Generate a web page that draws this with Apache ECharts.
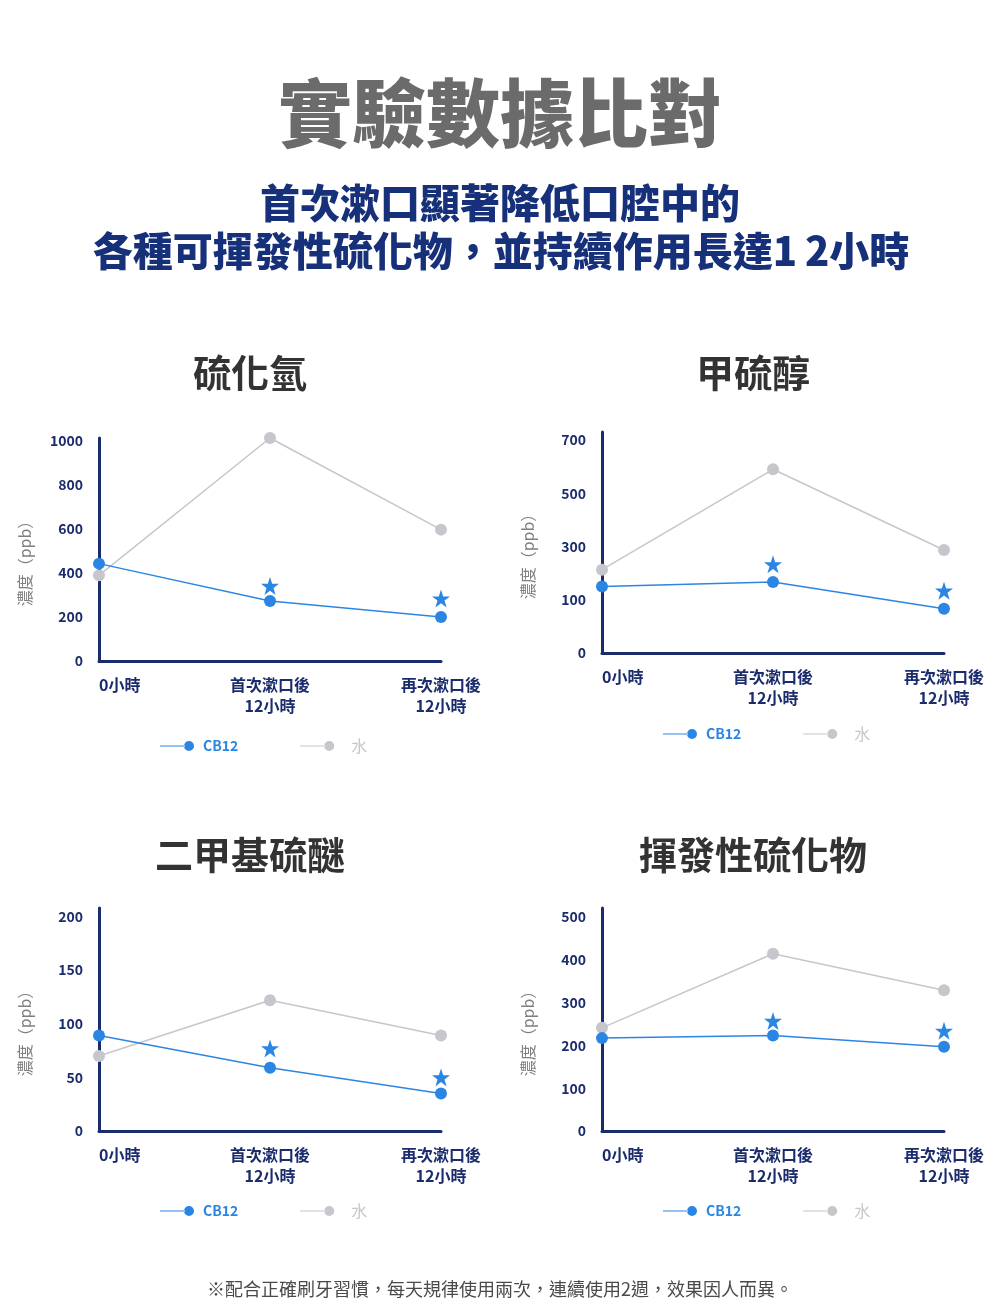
<!DOCTYPE html>
<html>
<head>
<meta charset="utf-8">
<script src="https://cdn.jsdelivr.net/npm/echarts@6/dist/echarts.min.js"></script>
<style>
  html, body { margin: 0; padding: 0; background: #fff; }
  #chart { width: 1000px; height: 1313px; }
</style>
</head>
<body>
<div id="chart"></div>
<script>
// categories shared by all four panels
const categories = ['0小時', '首次漱口後\n12小時', '再次漱口後\n12小時']
const seriesNames = ['CB12', '水']

// 硫化氫
const h2sCB12 = [441, 272, 199]
const h2sWater = [388, 1010, 595]
const h2sStar = [[1, 340], [2, 283]]

// 甲硫醇 (axis labels are not evenly spaced in value, so values are mapped onto the label steps)
const mmTicks = [0, 100, 300, 500, 700]
const mmCB12 = [150, 167, 83]
const mmWater = [213, 590, 287]
const mmStar = [[1, 233], [2, 134]]

// 二甲基硫醚
const dmsCB12 = [89, 59, 35]
const dmsWater = [70, 122, 89]
const dmsStar = [[1, 77], [2, 50]]

// 揮發性硫化物
const vscCB12 = [217, 223, 197]
const vscWater = [241, 414, 329]
const vscStar = [[1, 257], [2, 234]]

const BLUE = '#2b86e3'
const GREY = '#c6c6cd'
const NAVY = '#1b2c6c'
const FONT = "'Noto Sans CJK TC', 'Noto Sans', sans-serif"
const STAR = 'path://M50,0 L61.8,35.1 L98.9,35.1 L69.1,56.7 L80.3,91.9 L50,70.1 L19.7,91.9 L30.9,56.7 L1.1,35.1 L38.2,35.1 Z'
const LEGEND_ICON = 'path://M0,4.4 L25,4.4 L25,5.6 L0,5.6 Z M24,5 A5,5 0 1,0 34,5 A5,5 0 1,0 24,5 Z'

// piecewise map for the 甲硫醇 axis: value -> label step index
function mmPos (v) {
  for (let i = 1; i < mmTicks.length; i++) {
    if (v <= mmTicks[i]) {
      return i - 1 + (v - mmTicks[i - 1]) / (mmTicks[i] - mmTicks[i - 1])
    }
  }
  return mmTicks.length - 1
}

const panels = [
  { title: '硫化氫', cx: 250, ty: 373, grid: { left: 99, top: 438, width: 342, height: 223 },
    max: 1010, interval: 200, cb: h2sCB12, water: h2sWater, star: h2sStar, legendTop: 733 },
  { title: '甲硫醇', cx: 753, ty: 373, grid: { left: 602, top: 432, width: 342, height: 221 },
    max: 4.15, interval: 1, labels: mmTicks,
    cb: mmCB12.map(mmPos), water: mmWater.map(mmPos), star: mmStar.map(d => [d[0], mmPos(d[1])]), legendTop: 721 },
  { title: '二甲基硫醚', cx: 250, ty: 855, grid: { left: 99, top: 908, width: 342, height: 223 },
    max: 208, interval: 50, cb: dmsCB12, water: dmsWater, star: dmsStar, legendTop: 1198 },
  { title: '揮發性硫化物', cx: 753, ty: 855, grid: { left: 602, top: 908, width: 342, height: 223 },
    max: 521, interval: 100, cb: vscCB12, water: vscWater, star: vscStar, legendTop: 1198 }
]

const grid = []
const xAxis = []
const yAxis = []
const series = []
const legend = []
const graphic = []

panels.forEach((p, i) => {
  grid.push(p.grid)
  xAxis.push({
    type: 'category',
    gridIndex: i,
    boundaryGap: false,
    data: categories,
    axisLine: { lineStyle: { color: NAVY, width: 3 } },
    axisTick: { show: false },
    axisLabel: {
      color: NAVY, fontFamily: FONT, fontSize: 16, fontWeight: 'bold',
      lineHeight: 21, margin: 13, alignMinLabel: 'left', interval: 0
    }
  })
  yAxis.push({
    type: 'value',
    gridIndex: i,
    min: 0,
    max: p.max,
    interval: p.interval,
    name: '濃度（ppb）',
    nameLocation: 'middle',
    nameGap: 66,
    nameTextStyle: { color: '#7f7f7f', fontFamily: FONT, fontSize: 16, padding: [0, 20, 0, 0] },
    axisLine: { show: true, lineStyle: { color: NAVY, width: 3 } },
    axisTick: { show: false },
    splitLine: { show: false },
    axisLabel: {
      color: NAVY, fontFamily: FONT, fontSize: 14, fontWeight: 'bold', margin: 16,
      formatter: function (v) {
        if (Math.abs(v - Math.round(v / p.interval) * p.interval) > 1e-6) return ''
        if (Math.round(v / p.interval) * p.interval > p.max) return ''
        if (p.labels) return String(p.labels[Math.round(v)])
        return String(v)
      }
    }
  })
  series.push({
    name: '水', type: 'line', xAxisIndex: i, yAxisIndex: i, data: p.water,
    symbol: 'circle', symbolSize: 12, clip: false,
    itemStyle: { color: GREY }, lineStyle: { color: GREY, width: 1.5 }
  })
  series.push({
    name: 'CB12', type: 'line', xAxisIndex: i, yAxisIndex: i, data: p.cb,
    symbol: 'circle', symbolSize: 12, clip: false,
    itemStyle: { color: BLUE }, lineStyle: { color: BLUE, width: 1.5 }
  })
  series.push({
    name: '顯著', type: 'scatter', xAxisIndex: i, yAxisIndex: i, data: p.star,
    symbol: STAR, symbolSize: 18, itemStyle: { color: BLUE, opacity: 1 }
  })
  legend.push({
    left: p.grid.left + 56,
    top: p.legendTop,
    icon: LEGEND_ICON,
    itemWidth: 34,
    itemHeight: 10,
    itemGap: 62,
    selectedMode: false,
    textStyle: { fontFamily: FONT, fontSize: 14, fontWeight: 'bold' },
    data: [
      { name: 'CB12', textStyle: { color: BLUE, padding: [0, 0, 0, 4] } },
      { name: '水', textStyle: { color: GREY, fontSize: 16, fontWeight: 'normal', padding: [0, 0, 0, 12] } }
    ]
  })
  graphic.push({
    type: 'text', x: p.cx, y: p.ty,
    style: { text: p.title, fill: '#333', font: 'bold 38px ' + FONT, textAlign: 'center', textVerticalAlign: 'middle' }
  })
})

graphic.push(
  { type: 'text', x: 500, y: 113,
    style: { text: '實驗數據比對', fill: '#6b6b6b', font: '900 74px ' + FONT, textAlign: 'center', textVerticalAlign: 'middle' } },
  { type: 'text', x: 500, y: 203,
    style: { text: '首次漱口顯著降低口腔中的', fill: '#17307a', font: '900 40px ' + FONT, textAlign: 'center', textVerticalAlign: 'middle' } },
  { type: 'text', x: 501, y: 251,
    style: { text: '各種可揮發性硫化物，並持續作用長達1\u20092小時', fill: '#17307a', font: '900 40px ' + FONT, textAlign: 'center', textVerticalAlign: 'middle' } },
  { type: 'text', x: 500, y: 1289,
    style: { text: '※配合正確刷牙習慣，每天規律使用兩次，連續使用2週，效果因人而異。', fill: '#4a4a4a', font: '18px ' + FONT, textAlign: 'center', textVerticalAlign: 'middle' } }
)

const option = {
  backgroundColor: '#fff',
  animation: false,
  grid: grid,
  xAxis: xAxis,
  yAxis: yAxis,
  legend: legend,
  series: series,
  graphic: graphic
}

const myChart = echarts.init(document.getElementById('chart'))
myChart.setOption(option)
</script>
</body>
</html>
